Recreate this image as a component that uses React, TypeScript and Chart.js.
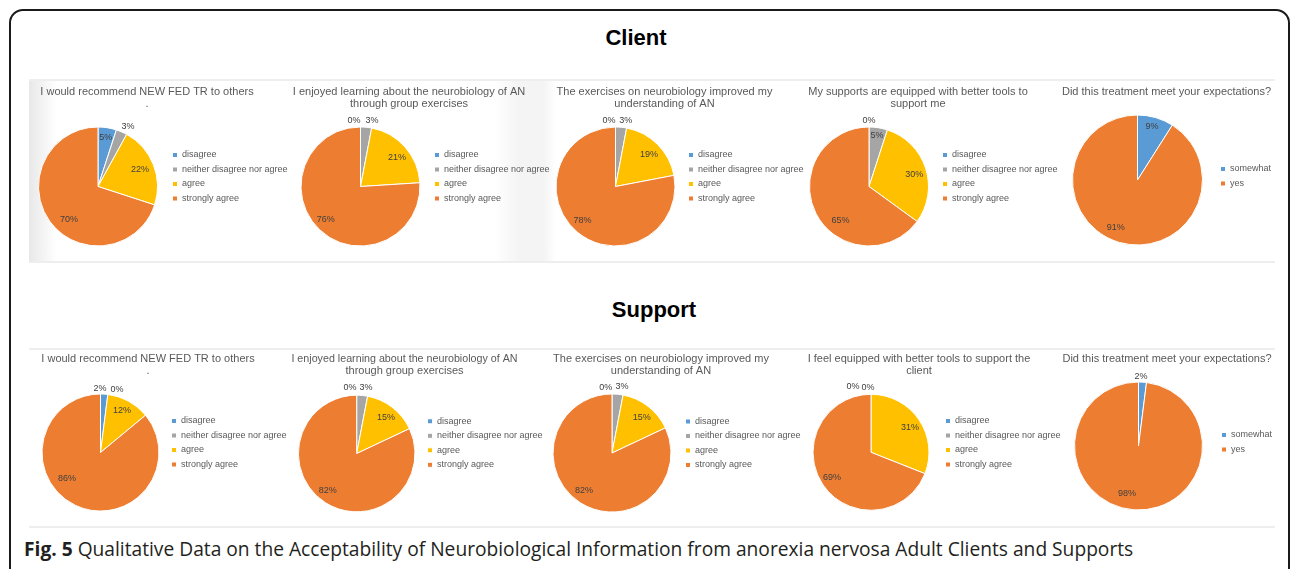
import React, { useEffect, useRef } from 'react';
import { Chart, registerables } from 'chart.js';

Chart.register(...registerables);

// ---------- data ----------
const agreeCategories = ['disagree', 'neither disagree nor agree', 'agree', 'strongly agree'];
const expectationCategories = ['somewhat', 'yes'];

const agreeColors = ['#5B9BD5', '#A5A5A5', '#FFC000', '#ED7D31'];
const expectationColors = ['#5B9BD5', '#ED7D31'];

// Client (%)
const clientRecommendValues = [5, 3, 22, 70];
const clientEnjoyedValues = [0, 3, 21, 76];
const clientUnderstandingValues = [0, 3, 19, 78];
const clientToolsValues = [0, 5, 30, 65];
const clientExpectationValues = [9, 91];

// Support (%)
const supportRecommendValues = [2, 0, 12, 86];
const supportEnjoyedValues = [0, 3, 15, 82];
const supportUnderstandingValues = [0, 3, 15, 82];
const supportToolsValues = [0, 0, 31, 69];
const supportExpectationValues = [2, 98];

// chart titles
const titleRecommend = ['I would recommend NEW FED TR to others', '.'];
const titleEnjoyed = ['I enjoyed learning about the neurobiology of AN', 'through group exercises'];
const titleUnderstanding = ['The exercises on neurobiology improved my', 'understanding of AN'];
const titleClientTools = ['My supports are equipped with better tools to', 'support me'];
const titleSupportTools = ['I feel equipped with better tools to support the', 'client'];
const titleExpectation = ['Did this treatment meet your expectations?'];

const sectionTitles = ['Client', 'Support'];
const captionBold = 'Fig. 5';
const captionText =
  ' Qualitative Data on the Acceptability of Neurobiological Information from anorexia nervosa Adult Clients and Supports';

// ---------- label placement (radial factor of radius, angle offset in degrees) ----------
const lpClientRecommend = [[0.84, 0], [1.13, 3], [0.76, 0], [0.745, -13]];
const lpClientEnjoyed = [[1.12, -5.6], [1.13, 4.4], [0.78, 3.4], [0.8, 3.5]];
const lpClientUnderstanding = [[1.12, -5.6], [1.13, 3.3], [0.78, 1.4], [0.8, 4.2]];
const lpClientTools = [[1.11, 0], [0.86, 0], [0.79, 2.6], [0.75, -23.4]];
const lpClientExpectation = [[0.85, -0.9], [0.8, 8.4]];
const lpSupportRecommend = [[1.1, -4], [1.12, 7.4], [0.8, -1.4], [0.73, 26.5]];
const lpSupportEnjoyed = [[1.13, -5.8], [1.135, 2.7], [0.79, 1.7], [0.8, 5.8]];
const lpSupportUnderstanding = [[1.12, -5.5], [1.14, 3.2], [0.78, 2.6], [0.79, 4.7]];
const lpSupportTools = [[1.18, -15.2], [1.12, -2.6], [0.795, 2], [0.805, 0.8]];
const lpSupportExpectation = [[1.094, -1.6], [0.77, 9.9]];

// ---------- layout ----------
const FONT = "'Liberation Sans', Arial, Helvetica, sans-serif";
const LEGEND_FS = 9;
const LEGEND_PAD = 5.5;
const TITLE_FS = 11;
const TITLE_LH = 12.3;
const EXTRA_R = 70;

type Spec = {
  title: string[];
  labels: string[];
  values: number[];
  colors: string[];
  placement: number[][];
  cx: number; cy: number; r: number;
  legendX: number; legendY: number;
  tx: number; ty: number;
};

const charts: Spec[] = [
  { title: titleRecommend, labels: agreeCategories, values: clientRecommendValues, colors: agreeColors, placement: lpClientRecommend,
    cx: 98, cy: 186.5, r: 59.5, legendX: 172.5, legendY: 155, tx: 147, ty: 91.5 },
  { title: titleEnjoyed, labels: agreeCategories, values: clientEnjoyedValues, colors: agreeColors, placement: lpClientEnjoyed,
    cx: 360.5, cy: 186.5, r: 59.5, legendX: 434.5, legendY: 155, tx: 409, ty: 91.5 },
  { title: titleUnderstanding, labels: agreeCategories, values: clientUnderstandingValues, colors: agreeColors, placement: lpClientUnderstanding,
    cx: 615.5, cy: 186.5, r: 59.5, legendX: 688.5, legendY: 155, tx: 664.5, ty: 91.5 },
  { title: titleClientTools, labels: agreeCategories, values: clientToolsValues, colors: agreeColors, placement: lpClientTools,
    cx: 869, cy: 186.5, r: 59.5, legendX: 942.5, legendY: 155, tx: 918, ty: 91.5 },
  { title: titleExpectation, labels: expectationCategories, values: clientExpectationValues, colors: expectationColors, placement: lpClientExpectation,
    cx: 1137.5, cy: 180, r: 65, legendX: 1220.5, legendY: 169, tx: 1166.5, ty: 91.5 },
  { title: titleRecommend, labels: agreeCategories, values: supportRecommendValues, colors: agreeColors, placement: lpSupportRecommend,
    cx: 100.5, cy: 452.5, r: 58.5, legendX: 171.5, legendY: 421, tx: 148, ty: 359 },
  { title: titleEnjoyed, labels: agreeCategories, values: supportEnjoyedValues, colors: agreeColors, placement: lpSupportEnjoyed,
    cx: 356.7, cy: 453.5, r: 58.3, legendX: 427.5, legendY: 421.3, tx: 404.5, ty: 359 },
  { title: titleUnderstanding, labels: agreeCategories, values: supportUnderstandingValues, colors: agreeColors, placement: lpSupportUnderstanding,
    cx: 612, cy: 453, r: 59, legendX: 685.5, legendY: 421.5, tx: 661, ty: 359 },
  { title: titleSupportTools, labels: agreeCategories, values: supportToolsValues, colors: agreeColors, placement: lpSupportTools,
    cx: 871, cy: 452.3, r: 58, legendX: 945.5, legendY: 421, tx: 919, ty: 359 },
  { title: titleExpectation, labels: expectationCategories, values: supportExpectationValues, colors: expectationColors, placement: lpSupportExpectation,
    cx: 1138.5, cy: 446, r: 64, legendX: 1221.5, legendY: 435, tx: 1167, ty: 358.5 },
];

function geometry(s: Spec) {
  const LW = 2 * (s.tx - s.cx);
  const L = 2 * s.cx - s.legendX + LEGEND_PAD;
  const contentRight = s.legendX - LEGEND_PAD + LW;
  const T = s.ty - TITLE_LH / 2;
  const areaTop = s.legendY - LEGEND_FS / 2 - LEGEND_PAD;
  const areaBottom = 2 * s.cy - areaTop;
  const titleH = areaTop - T;
  const tpb = titleH - s.title.length * TITLE_LH;
  const bottomEdge = s.cy + s.r + 14;
  const Lc = Math.floor(L);
  const Tc = Math.floor(T);
  const W = Math.ceil(contentRight - Lc + EXTRA_R);
  const H = Math.ceil(bottomEdge - Tc);
  return {
    left: Lc, top: Tc, width: W, height: H, LW, tpb,
    padding: { left: L - Lc, top: T - Tc, right: W - (contentRight - Lc), bottom: H - (areaBottom - Tc) },
  };
}

function makeLabelPlugin(placement: number[][]) {
  return {
    id: 'sliceLabels',
    afterLayout(chart: any) {
      // let legend text run past the narrow legend box instead of being clipped
      const lg = chart.legend;
      if (lg) {
        lg.right = chart.width;
        lg.width = lg.right - lg.left;
      }
    },
    afterDatasetsDraw(chart: any) {
      const ctx = chart.ctx;
      const meta = chart.getDatasetMeta(0);
      const values = chart.data.datasets[0].data;
      ctx.save();
      ctx.font = `9px ${FONT}`;
      ctx.fillStyle = '#404040';
      ctx.textAlign = 'center';
      ctx.textBaseline = 'middle';
      meta.data.forEach((arc: any, i: number) => {
        const p = arc.getProps(['x', 'y', 'startAngle', 'endAngle', 'outerRadius'], true);
        const [f, a] = placement[i];
        const ang = (p.startAngle + p.endAngle) / 2 + (a * Math.PI) / 180;
        const d = f * p.outerRadius;
        ctx.fillText(values[i] + '%', p.x + Math.cos(ang) * d, p.y + Math.sin(ang) * d);
      });
      ctx.restore();
    },
  };
}

function PieChart({ spec }: { spec: Spec }) {
  const ref = useRef<HTMLCanvasElement>(null);
  const g = geometry(spec);
  useEffect(() => {
    if (!ref.current) return;
    const chart = new Chart(ref.current, {
      type: 'pie',
      data: {
        labels: spec.labels,
        datasets: [
          {
            data: spec.values,
            backgroundColor: spec.colors,
            borderColor: '#ffffff',
            borderWidth: 1,
            radius: spec.r,
            clip: false,
          } as any,
        ],
      },
      options: {
        responsive: false,
        maintainAspectRatio: false,
        animation: false,
        layout: { padding: g.padding },
        plugins: {
          title: {
            display: true,
            text: spec.title,
            color: '#595959',
            font: { family: FONT, size: TITLE_FS, weight: 'normal', lineHeight: TITLE_LH / TITLE_FS },
            padding: { top: 0, bottom: g.tpb },
          },
          legend: {
            display: true,
            position: 'right',
            align: 'start',
            fullSize: false,
            maxWidth: g.LW,
            labels: {
              boxWidth: 5,
              boxHeight: 5,
              padding: LEGEND_PAD,
              color: '#595959',
              font: { family: FONT, size: LEGEND_FS },
            },
          },
          tooltip: { enabled: false },
        },
      } as any,
      plugins: [makeLabelPlugin(spec.placement)],
    });
    return () => chart.destroy();
  }, []);
  return (
    <canvas
      ref={ref}
      width={g.width}
      height={g.height}
      style={{ position: 'absolute', left: g.left, top: g.top, width: g.width, height: g.height }}
    />
  );
}

function Line({ x1, x2, y }: { x1: number; x2: number; y: number }) {
  return <div style={{ position: 'absolute', left: x1, top: y - 1, width: x2 - x1, height: 2, background: '#eeeeee' }} />;
}

export default function App() {
  return (
    <div style={{ position: 'absolute', left: 0, top: 0, width: 1292, height: 569, overflow: 'hidden', background: '#ffffff' }}>
      <div
        style={{
          position: 'absolute', left: 9, top: 9, width: 1277, height: 700,
          border: '2px solid #1a1a1a', borderRadius: 14, boxSizing: 'content-box',
        }}
      />
      {/* faint panel shading */}
      <div style={{ position: 'absolute', left: 29, top: 81, width: 28, height: 180, background: 'linear-gradient(to right, #e8e8e8, #ffffff)' }} />
      <div style={{ position: 'absolute', left: 494, top: 81, width: 62, height: 180, background: 'linear-gradient(to right, #ffffff, #f4f4f4 40%, #f4f4f4 80%, #ffffff)' }} />
      <Line x1={29} x2={1275} y={80} />
      <Line x1={29} x2={1275} y={262} />
      <Line x1={29} x2={1275} y={349} />
      <Line x1={29} x2={1275} y={527} />
      <div style={{ position: 'absolute', left: 536, top: 25, width: 200, textAlign: 'center', font: `bold 22px ${FONT}`, lineHeight: '26px', color: '#000' }}>
        {sectionTitles[0]}
      </div>
      <div style={{ position: 'absolute', left: 554, top: 297, width: 200, textAlign: 'center', font: `bold 22px ${FONT}`, lineHeight: '26px', color: '#000' }}>
        {sectionTitles[1]}
      </div>
      {charts.map((s, i) => (
        <PieChart key={i} spec={s} />
      ))}
      <div style={{ position: 'absolute', left: 24, top: 538, whiteSpace: 'nowrap', font: `19.2px 'Open Sans', 'Noto Sans', sans-serif`, lineHeight: '22px', color: '#231f20' }}>
        <span style={{ fontWeight: 700 }}>{captionBold}</span>
        {captionText}
      </div>
    </div>
  );
}
